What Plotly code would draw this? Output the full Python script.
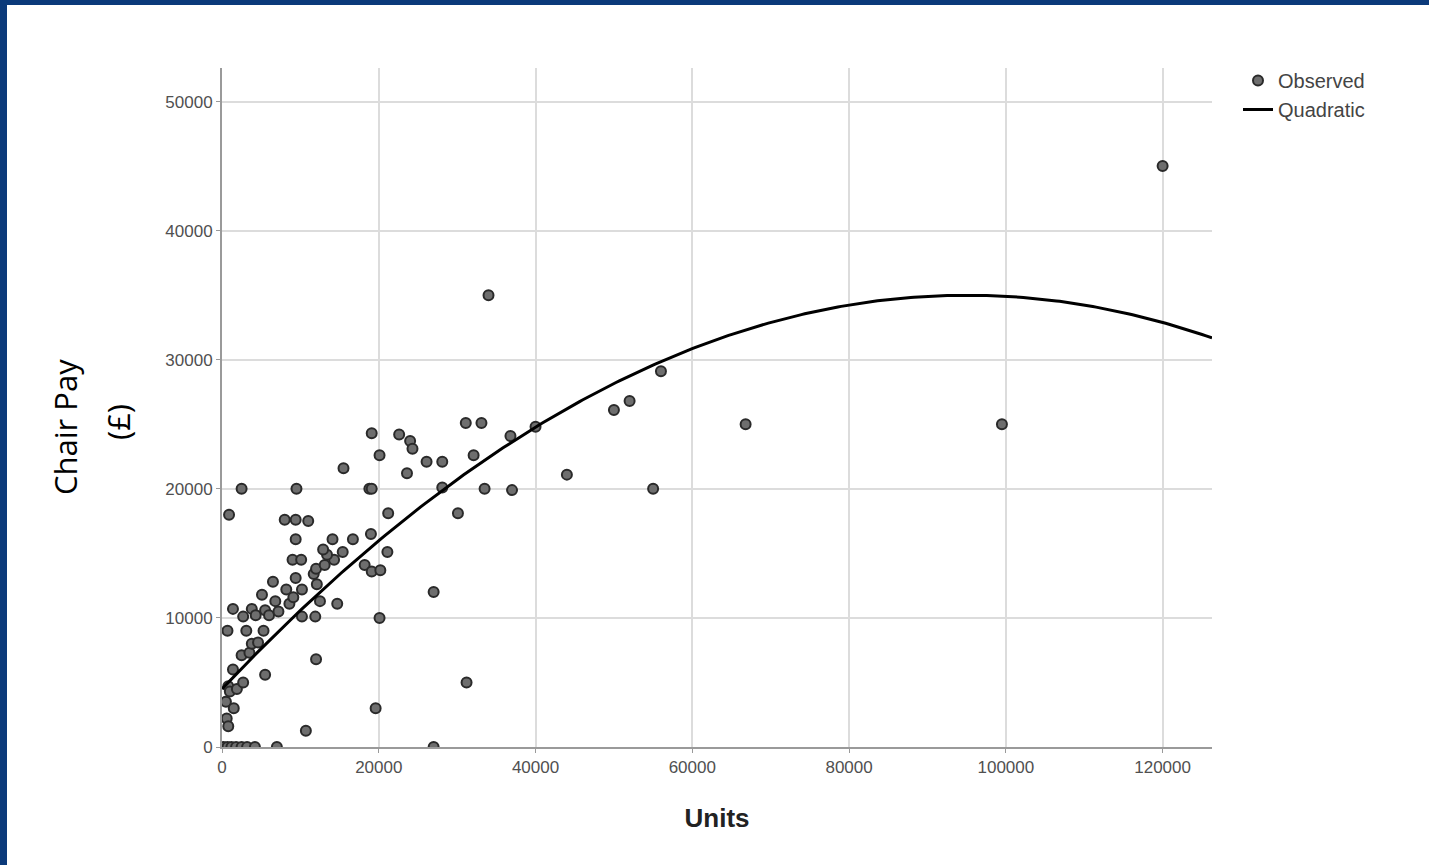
import numpy as np
import plotly.graph_objects as go

units = [
    200, 700, 1200, 1800, 2500, 3200, 4200, 7000, 27000,
    500, 600, 800, 1500, 800, 1000, 1900, 2700, 1400, 2500, 3500, 3800, 4600,
    700, 3100, 5300, 5500, 12000, 10700, 19600, 31200, 27000, 20100,
    1400, 2700, 3800, 4300, 5500, 6000, 7200, 10200, 11900, 5100, 6800, 8600,
    9100, 12500, 14700, 6500, 8200, 10200, 12100, 9400, 11700, 12000, 13100,
    14300, 13400, 12900, 15400, 14100, 16700, 9400, 9000, 10100, 19000, 18200,
    19100, 20200, 21100,
    900, 8000, 9400, 11000, 21200, 2500, 9500, 18800, 19100, 15500, 19100,
    20100, 22600, 24000, 24300, 23600, 26100, 28100, 28100, 30100, 31100,
    33100, 32100, 33500, 36800, 37000, 40000, 44000, 34000, 50000, 52000,
    56000, 55000, 66800, 99500, 120000,
]
chair_pay = [
    0, 0, 0, 0, 0, 0, 0, 0, 0,
    3500, 2200, 1600, 3000, 4700, 4300, 4500, 5000, 6000, 7100, 7300, 8000, 8100,
    9000, 9000, 9000, 5600, 6800, 1250, 3000, 5000, 12000, 10000,
    10700, 10100, 10700, 10200, 10600, 10200, 10500, 10100, 10100, 11800, 11300, 11100,
    11600, 11300, 11100, 12800, 12200, 12200, 12600, 13100, 13400, 13800, 14100,
    14500, 14900, 15300, 15100, 16100, 16100, 16100, 14500, 14500, 16500, 14100,
    13600, 13700, 15100,
    18000, 17600, 17600, 17500, 18100, 20000, 20000, 20000, 20000, 21600, 24300,
    22600, 24200, 23700, 23100, 21200, 22100, 22100, 20100, 18100, 25100,
    25100, 22600, 20000, 24100, 19900, 24800, 21100, 35000, 26100, 26800,
    29100, 20000, 25000, 25000, 45000,
]

# Quadratic fit coefficients (b0, b1, b2) as shown by the fitted curve
quad_coefs = [4495.0, 0.6422, -3.38e-6]
x_range = [0, 126300]
y_range = [0, 52600]
x_ticks = [0, 20000, 40000, 60000, 80000, 100000, 120000]
y_ticks = [0, 10000, 20000, 30000, 40000, 50000]

xs = np.linspace(x_range[0], x_range[1], 300)
ys = quad_coefs[0] + quad_coefs[1] * xs + quad_coefs[2] * xs ** 2

fig = go.Figure()
fig.add_trace(go.Scatter(
    x=units, y=chair_pay, mode="markers", name="Observed",
    marker=dict(size=10, color="#6e6e6e", line=dict(color="#2a2a2a", width=2)),
))
fig.add_trace(go.Scatter(
    x=xs, y=ys, mode="lines", name="Quadratic",
    line=dict(color="#000000", width=3),
))

W, H = 1429, 865
L, R, T, B = 222, 217, 68, 118
pw, ph = W - L - R, H - T - B


def px(xp):
    return (xp - L) / pw


def py(yp):
    return (H - B - yp) / ph


blue = "#0b3a7a"
shapes = [
    dict(type="rect", xref="paper", yref="paper", x0=px(0), x1=px(7), y0=py(H), y1=py(0),
         fillcolor=blue, line=dict(width=0), layer="above"),
    dict(type="rect", xref="paper", yref="paper", x0=px(0), x1=px(W), y0=py(5), y1=py(0),
         fillcolor=blue, line=dict(width=0), layer="above"),
]

title_font = dict(family="Open Sans", size=31, color="#000")
annotations = [
    dict(text="Chair Pay", xref="paper", yref="paper", x=px(65), y=py(427),
         xanchor="center", yanchor="middle",
         showarrow=False, textangle=-90, font=title_font),
    dict(text="(£)", xref="paper", yref="paper", x=px(118), y=py(422),
         xanchor="center", yanchor="middle",
         showarrow=False, textangle=-90, font=title_font),
]

axis_common = dict(
    showgrid=True, gridcolor="#dcdcdc", gridwidth=2,
    showline=True, linecolor="#9a9a9a", linewidth=2,
    ticks="outside", ticklen=4, tickcolor="#9a9a9a", tickwidth=1,
    zeroline=False,
    tickfont=dict(family="Liberation Sans, Arial", size=17, color="#505050"),
)

fig.update_layout(
    width=W, height=H,
    margin=dict(l=L, r=R, t=T, b=B),
    paper_bgcolor="white", plot_bgcolor="white",
    xaxis=dict(range=x_range, tickvals=x_ticks, ticktext=[str(v) for v in x_ticks],
               title=dict(text="<b>Units</b>", font=dict(family="Liberation Sans, Arial", size=26, color="#222"),
                          standoff=32),
               **axis_common),
    yaxis=dict(range=y_range, tickvals=y_ticks, ticktext=[str(v) for v in y_ticks],
               **axis_common),
    legend=dict(x=px(1238), y=py(61), xanchor="left", yanchor="top",
                font=dict(family="Liberation Sans, Arial", size=20, color="#444"),
                bgcolor="rgba(0,0,0,0)", tracegroupgap=0),
    shapes=shapes,
    annotations=annotations,
    showlegend=True,
)

fig.write_html("out.html", config={"displayModeBar": False},
               post_script="document.body.style.margin='0px';document.body.style.overflow='hidden';")
